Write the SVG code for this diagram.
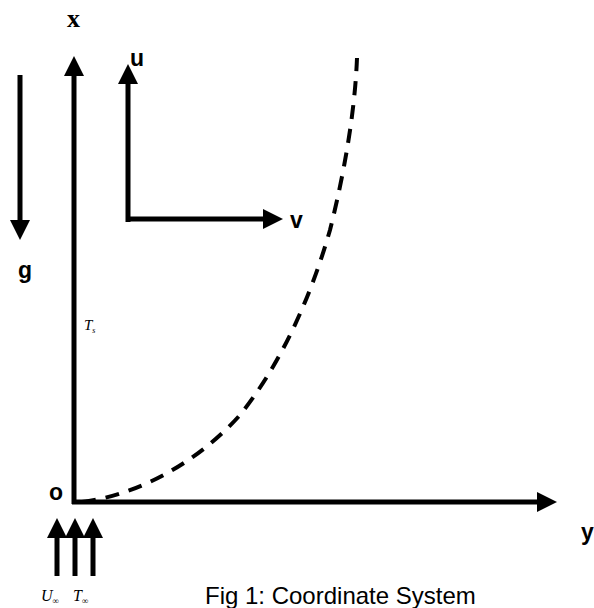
<svg xmlns="http://www.w3.org/2000/svg" width="594" height="608" viewBox="0 0 594 608">
<style>
.ax{stroke:#000;stroke-width:5;fill:none;marker-end:url(#ah)}
.lb{font-family:"Liberation Sans",Arial,sans-serif;font-weight:bold;font-size:23px;fill:#000}
.it{font-family:"Liberation Serif","Times New Roman",serif;font-style:italic;fill:#000}
</style>
<defs>
<marker id="ah" markerUnits="userSpaceOnUse" markerWidth="20" markerHeight="20" viewBox="0 0 18 18" refX="0" refY="9" orient="auto">
<polygon points="0,0 18,9 0,18" fill="#000"/>
</marker>
</defs>
<rect width="594" height="608" fill="#fff"/>
<g id="connectors">
<line class="ax" x1="74" y1="504" x2="74" y2="76"/>
<line class="ax" x1="72" y1="502" x2="537" y2="502"/>
<line class="ax" x1="20" y1="75" x2="20" y2="220"/>
<line class="ax" x1="128" y1="222" x2="128" y2="84"/>
<line class="ax" x1="126" y1="219" x2="263" y2="219"/>
<line class="ax" x1="57" y1="576" x2="57" y2="538"/>
<line class="ax" x1="75" y1="576" x2="75" y2="538"/>
<line class="ax" x1="93" y1="576" x2="93" y2="538"/>
<path d="M82,502 C140,495 200,460 240,415 C280,365 310,300 330,230 C345,170 355,110 357,58" fill="none" stroke="#000" stroke-width="4" stroke-dasharray="14,10"/>
</g>
<g id="labels">
<text x="67" y="27" font-family="Liberation Serif,serif" font-weight="bold" font-size="26">x</text>
<text class="lb" x="130" y="66">u</text>
<text class="lb" x="290" y="228">v</text>
<text class="lb" x="18" y="278">g</text>
<text class="lb" x="49" y="500">o</text>
<text class="lb" x="581" y="540">y</text>
<text class="it" x="84" y="330" font-size="15">T<tspan font-size="8" dy="3">s</tspan></text>
<text class="it" x="41" y="601" font-size="16">U<tspan font-size="9" dy="3">∞</tspan></text>
<text class="it" x="73" y="601" font-size="16">T<tspan font-size="9" dy="3">∞</tspan></text>
<text x="205" y="604" font-family="Liberation Sans,Arial,sans-serif" font-size="24">Fig 1: Coordinate System</text>
</g>
</svg>
